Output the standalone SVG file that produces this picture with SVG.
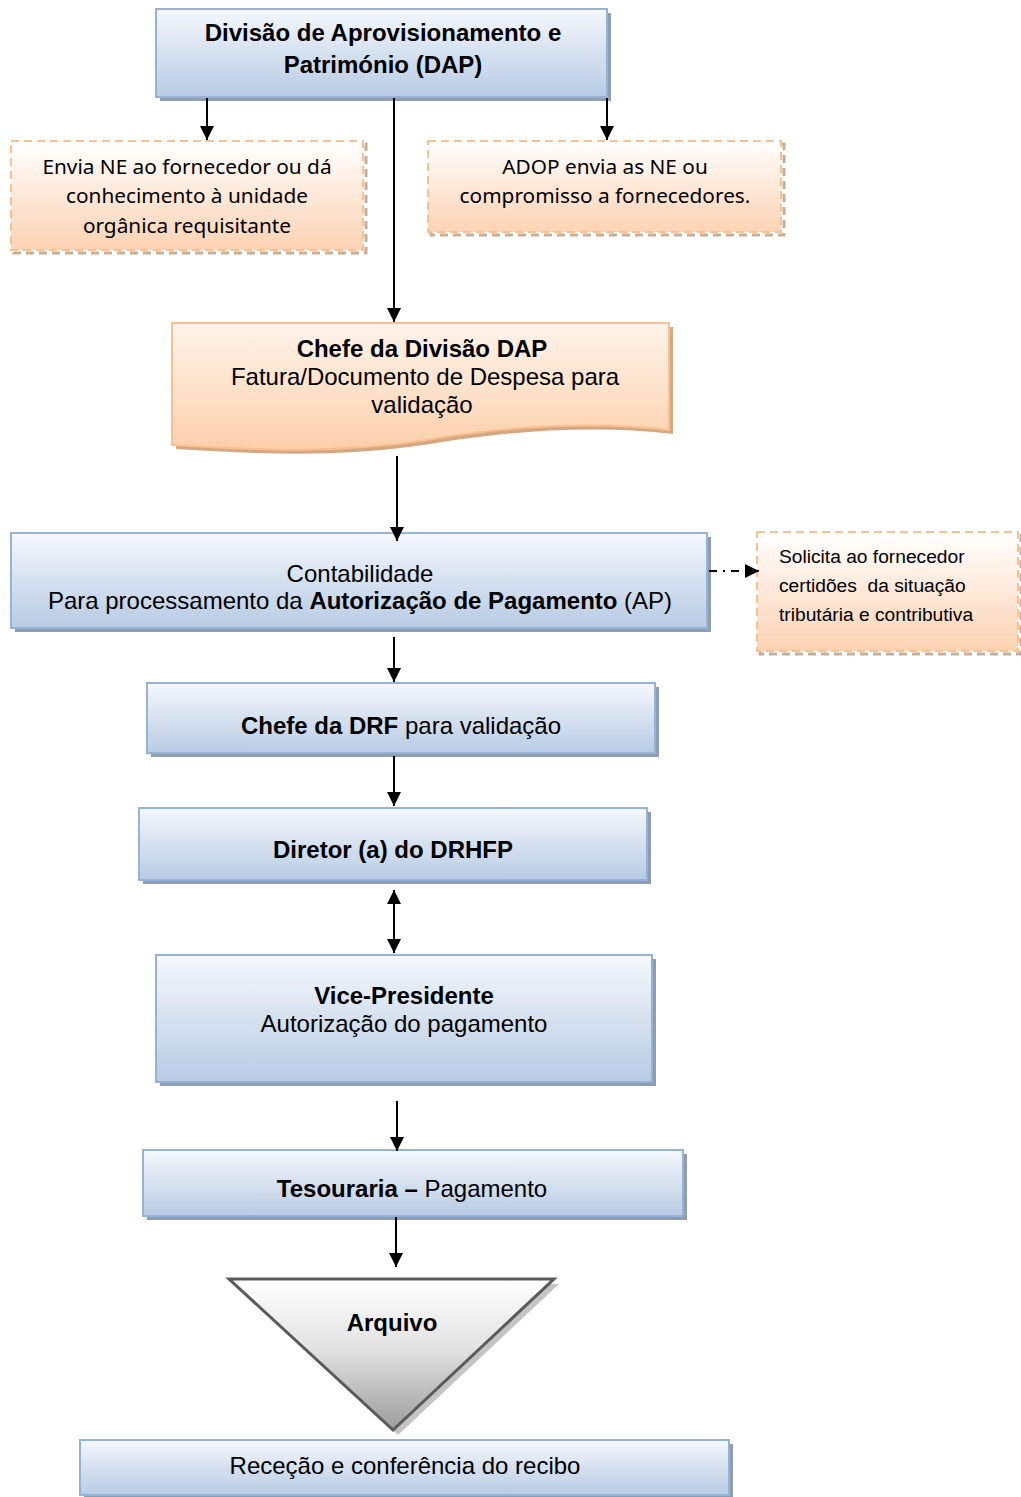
<svg xmlns="http://www.w3.org/2000/svg" width="1021" height="1497" viewBox="0 0 1021 1497">
<style>
.blue{fill:url(#gBlue);stroke:#95b3d7;stroke-width:2}
.bsh{fill:#8e9db3}
.org{fill:url(#gOrg);stroke:#fac090;stroke-width:2;stroke-dasharray:8 5}
.osh{fill:none;stroke:#c9ae96;stroke-width:3;stroke-dasharray:8 5}
.t{font-family:"Liberation Sans",Arial,sans-serif;fill:#000;text-anchor:middle;font-size:24px}
.c{font-family:"Noto Sans","Liberation Sans",sans-serif;fill:#000;text-anchor:middle;font-size:20.8px}
.s{font-family:"Liberation Sans",Arial,sans-serif;fill:#000;font-size:19.2px}
.b{font-weight:bold}
.ln{stroke:#000;stroke-width:2;fill:none}
</style>
<defs>
<linearGradient id="gBlue" x1="0" y1="0" x2="0" y2="1">
<stop offset="0" stop-color="#f5f8fc"/>
<stop offset="0.5" stop-color="#d6e1ef"/>
<stop offset="1" stop-color="#b8cce4"/>
</linearGradient>
<linearGradient id="gOrg" x1="0" y1="0" x2="0" y2="1">
<stop offset="0" stop-color="#ffffff"/>
<stop offset="0.5" stop-color="#fde8d8"/>
<stop offset="1" stop-color="#fbd3b3"/>
</linearGradient>
<linearGradient id="gDoc" x1="0" y1="0" x2="0" y2="1">
<stop offset="0" stop-color="#fef3ea"/>
<stop offset="0.5" stop-color="#fde3cc"/>
<stop offset="1" stop-color="#fbcfaa"/>
</linearGradient>
<linearGradient id="gTri" x1="0" y1="0" x2="0" y2="1">
<stop offset="0" stop-color="#ffffff"/>
<stop offset="0.45" stop-color="#e3e3e3"/>
<stop offset="1" stop-color="#9c9c9c"/>
</linearGradient>
<marker id="ah" viewBox="0 0 10 10" refX="10" refY="5" markerWidth="7" markerHeight="7" orient="auto-start-reverse" markerUnits="strokeWidth">
<path d="M0,0 L10,5 L0,10 Z" fill="#000"/>
</marker>
</defs>

<g id="dap">
<rect class="bsh" x="160" y="13" width="451" height="88"/>
<rect class="blue" x="156" y="9" width="451" height="88"/>
<text class="t b" x="383" y="41">Divisão de Aprovisionamento e</text>
<text class="t b" x="383" y="73">Património (DAP)</text>
</g>

<g id="envia">
<rect class="osh" x="14" y="144" width="352" height="109"/>
<rect class="org" x="11" y="141" width="352" height="109"/>
<text class="c" x="187" y="174">Envia NE ao fornecedor ou dá</text>
<text class="c" x="187" y="203">conhecimento à unidade</text>
<text class="c" x="187" y="233">orgânica requisitante</text>
</g>

<g id="adop">
<rect class="osh" x="431" y="144" width="353" height="91"/>
<rect class="org" x="428" y="141" width="353" height="91"/>
<text class="c" x="605" y="174">ADOP envia as NE ou</text>
<text class="c" x="605" y="203">compromisso a fornecedores.</text>
</g>

<g id="chefe-dap">
<path d="M176,327 H673 V434 C590,424 500,432 430,444 C340,458 260,454 176,449 Z" fill="#d5a883"/>
<path d="M172,323 H669 V430 C586,420 496,428 426,440 C336,454 256,450 172,445 Z" fill="url(#gDoc)" stroke="#fac090" stroke-width="2"/>
<text class="t b" x="422" y="357">Chefe da Divisão DAP</text>
<text class="t" x="425" y="385">Fatura/Documento de Despesa para</text>
<text class="t" x="422" y="413">validação</text>
</g>

<g id="contabilidade">
<rect class="bsh" x="15" y="537" width="696" height="95"/>
<rect class="blue" x="11" y="533" width="696" height="95"/>
<text class="t" x="360" y="582">Contabilidade</text>
<text class="t" x="360" y="609">Para processamento da <tspan class="b">Autorização de Pagamento</tspan> (AP)</text>
</g>

<g id="solicita">
<rect class="osh" x="760" y="535" width="261" height="119"/>
<rect class="org" x="757" y="532" width="261" height="119"/>
<text class="s" x="779" y="563">Solicita ao fornecedor</text>
<text class="s" x="779" y="592" xml:space="preserve">certidões  da situação</text>
<text class="s" x="779" y="621">tributária e contributiva</text>
</g>

<g id="chefe-drf">
<rect class="bsh" x="151" y="687" width="508" height="70"/>
<rect class="blue" x="147" y="683" width="508" height="70"/>
<text class="t" x="401" y="734"><tspan class="b">Chefe da DRF</tspan> para validação</text>
</g>

<g id="diretor">
<rect class="bsh" x="143" y="812" width="508" height="72"/>
<rect class="blue" x="139" y="808" width="508" height="72"/>
<text class="t b" x="393" y="858">Diretor (a) do DRHFP</text>
</g>

<g id="vice">
<rect class="bsh" x="160" y="959" width="496" height="127"/>
<rect class="blue" x="156" y="955" width="496" height="127"/>
<text class="t b" x="404" y="1004">Vice-Presidente</text>
<text class="t" x="404" y="1032">Autorização do pagamento</text>
</g>

<g id="tesouraria">
<rect class="bsh" x="147" y="1154" width="540" height="66"/>
<rect class="blue" x="143" y="1150" width="540" height="66"/>
<text class="t" x="412" y="1197"><tspan class="b">Tesouraria –</tspan> Pagamento</text>
</g>

<g id="arquivo">
<polygon points="234,1284 559,1284 398,1435" fill="#c4c4c4"/>
<polygon points="229,1279 554,1279 393,1430" fill="url(#gTri)" stroke="#5a5a5a" stroke-width="3" stroke-linejoin="miter"/>
<text class="t b" x="392" y="1331">Arquivo</text>
</g>

<g id="rececao">
<rect class="bsh" x="84" y="1444" width="649" height="55"/>
<rect class="blue" x="80" y="1440" width="649" height="55"/>
<text class="t" x="405" y="1474">Receção e conferência do recibo</text>
</g>

<g id="connectors">
<line class="ln" x1="207" y1="98" x2="207" y2="140" marker-end="url(#ah)"/>
<line class="ln" x1="394" y1="98" x2="394" y2="322" marker-end="url(#ah)"/>
<line class="ln" x1="607" y1="98" x2="607" y2="140" marker-end="url(#ah)"/>
<line class="ln" x1="397" y1="456" x2="397" y2="541" marker-end="url(#ah)"/>
<line class="ln" x1="709" y1="571" x2="759" y2="571" stroke-dasharray="8 6 2 6" marker-end="url(#ah)"/>
<line class="ln" x1="394" y1="637" x2="394" y2="682" marker-end="url(#ah)"/>
<line class="ln" x1="394" y1="756" x2="394" y2="806" marker-end="url(#ah)"/>
<line class="ln" x1="394" y1="890" x2="394" y2="953" marker-start="url(#ah)" marker-end="url(#ah)"/>
<line class="ln" x1="397" y1="1101" x2="397" y2="1151" marker-end="url(#ah)"/>
<line class="ln" x1="396" y1="1217" x2="396" y2="1267" marker-end="url(#ah)"/>
</g>
</svg>
